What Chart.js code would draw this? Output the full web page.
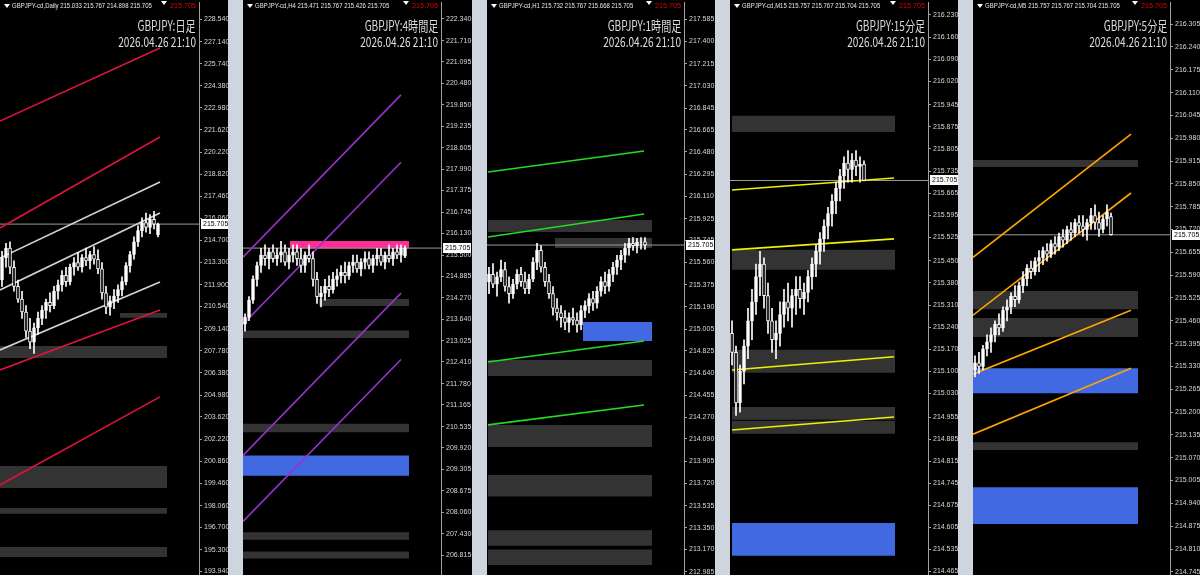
<!DOCTYPE html>
<html><head><meta charset="utf-8">
<script src="https://cdn.jsdelivr.net/npm/chart.js@4.4.1/dist/chart.umd.min.js"></script>
<style>
html,body{margin:0;padding:0}
body{width:1200px;height:575px;overflow:hidden;position:relative;background:#cfd5de;font-family:"Liberation Sans",Arial,sans-serif}
.panel{position:absolute;top:0;height:575px;background:#000;overflow:hidden}
.panel canvas{position:absolute;left:0;top:0}
.hdr{position:absolute;top:1px;left:12px;font-size:7.5px;color:#e8e8e8;white-space:nowrap;transform:scaleX(0.8);transform-origin:left center}
.tri{position:absolute;width:0;height:0;border-left:3px solid transparent;border-right:3px solid transparent;border-top:4px solid #fff}
.bid{position:absolute;top:1px;font-size:8px;color:#e00000;white-space:nowrap;transform:scaleX(0.9);transform-origin:right center}
.ttl{position:absolute;font-family:"Noto Sans CJK JP","Liberation Sans",sans-serif;font-size:14px;color:#dcdcdc;white-space:nowrap;transform:scaleX(0.72);transform-origin:right center;text-align:right}
</style></head>
<body>
<script>
// ---------------- DATA ----------------
const stampText = "2026.04.26 21:10";
const bidPrice = 215.705;
const panelNames = ["GBPJPY-cd,Daily","GBPJPY-cd,H4","GBPJPY-cd,H1","GBPJPY-cd,M15","GBPJPY-cd,M5"];
const panelTitles = ["GBPJPY:日足","GBPJPY:4時間足","GBPJPY:1時間足","GBPJPY:15分足","GBPJPY:5分足"];
const panelOHLC = ["215.033 215.767 214.898 215.705","215.471 215.767 215.426 215.705","215.732 215.767 215.668 215.705","215.757 215.767 215.704 215.705","215.757 215.767 215.704 215.705"];

const d1Ticks = [228.540,227.140,225.740,224.380,222.980,221.620,220.220,218.820,217.460,216.060,214.700,213.300,211.900,210.540,209.140,207.780,206.380,204.980,203.620,202.220,200.860,199.460,198.060,196.700,195.300,193.940];
const h4Ticks = [222.340,221.710,221.095,220.480,219.850,219.235,218.605,217.990,217.375,216.745,216.130,215.500,214.885,214.270,213.640,213.025,212.410,211.780,211.165,210.535,209.920,209.305,208.675,208.060,207.430,206.815];
const h1Ticks = [217.585,217.400,217.215,217.030,216.845,216.665,216.480,216.295,216.110,215.925,215.745,215.560,215.375,215.190,215.005,214.825,214.640,214.455,214.270,214.090,213.905,213.720,213.535,213.350,213.170,212.985];
const m15Ticks = [216.230,216.160,216.090,216.020,215.945,215.875,215.805,215.735,215.665,215.595,215.525,215.450,215.380,215.310,215.240,215.170,215.100,215.030,214.955,214.885,214.815,214.745,214.675,214.605,214.535,214.465];
const m5Ticks = [216.305,216.240,216.175,216.110,216.045,215.980,215.915,215.850,215.785,215.720,215.655,215.590,215.525,215.460,215.395,215.330,215.265,215.200,215.135,215.070,215.005,214.940,214.875,214.810,214.745];

const d1Range = [193.72, 229.62];
const h4Range = [206.24, 222.83];
const h1Range = [212.957, 217.729];
const m15Range = [214.454, 216.271];
const m5Range = [214.736, 216.368];

// candles: [open, high, low, close]
const d1Candles = [
[212.2,214.0,211.8,213.6],[213.6,214.5,213.0,214.2],[214.2,214.6,212.6,213.0],[213.0,213.4,211.5,211.8],[211.8,212.2,210.8,211.0],
[211.0,211.5,209.8,210.2],[210.2,210.6,208.6,209.0],[209.0,209.8,207.9,208.3],[208.3,209.5,207.6,209.2],[209.2,210.2,208.8,209.8],
[209.8,210.6,209.4,210.3],[210.3,211.0,209.8,210.8],[210.8,211.4,210.2,210.6],[210.6,211.8,210.4,211.5],[211.5,212.2,211.0,211.9],
[211.9,212.8,211.5,212.5],[212.5,213.0,211.8,212.1],[212.1,213.2,211.9,213.0],[213.0,213.6,212.5,213.3],[213.3,213.9,212.8,213.0],
[213.0,213.8,212.7,213.6],[213.6,214.2,213.1,213.4],[213.4,214.0,212.9,213.8],[213.8,214.3,213.2,213.5],[213.5,214.1,212.6,212.9],
[212.9,213.3,211.0,211.4],[211.4,211.8,210.1,210.5],[210.5,211.2,210.0,210.9],[210.9,211.6,210.4,211.2],[211.2,211.9,210.8,211.6],
[211.6,212.4,211.2,212.1],[212.1,213.3,211.9,213.1],[213.1,214.0,212.7,213.8],[213.8,214.9,213.5,214.6],[214.6,215.6,214.3,215.3],
[215.3,216.1,214.9,215.8],[215.8,216.4,215.2,215.5],[215.5,216.3,215.1,216.0],[216.0,216.5,215.4,215.7],[215.033,215.767,214.898,215.705]
];
const h4Candles = [
[213.5,213.8,213.3,213.7],[213.7,214.3,213.6,214.2],[214.2,214.9,214.1,214.8],[214.8,215.3,214.6,215.2],[215.2,215.7,215.0,215.5],
[215.5,215.8,215.2,215.4],[215.4,215.7,215.1,215.6],[215.6,215.8,215.3,215.4],[215.4,215.7,215.2,215.5],[215.5,215.9,215.3,215.6],
[215.6,215.8,215.2,215.3],[215.3,215.7,215.1,215.5],[215.5,215.8,215.3,215.6],[215.6,215.8,215.2,215.4],[215.4,215.7,215.0,215.2],
[215.2,215.6,215.0,215.5],[215.5,215.8,215.3,215.4],[215.4,215.6,214.6,214.8],[214.8,215.0,214.1,214.3],[214.3,214.6,214.0,214.4],
[214.4,214.8,214.2,214.6],[214.6,214.9,214.3,214.5],[214.5,215.0,214.4,214.8],[214.8,215.1,214.6,214.9],[214.9,215.2,214.7,215.0],
[215.0,215.3,214.7,214.9],[214.9,215.3,214.8,215.2],[215.2,215.5,215.0,215.3],[215.3,215.5,215.0,215.1],[215.1,215.4,214.9,215.3],
[215.3,215.6,215.1,215.4],[215.4,215.6,215.1,215.2],[215.2,215.5,215.0,215.4],[215.4,215.7,215.2,215.5],[215.5,215.7,215.2,215.3],
[215.3,215.6,215.1,215.5],[215.5,215.8,215.3,215.4],[215.4,215.7,215.2,215.6],[215.6,215.8,215.4,215.5],[215.5,215.8,215.3,215.7],
[215.471,215.767,215.426,215.705]
];
const h1Candles = [
[215.40,215.52,215.30,215.46],[215.46,215.55,215.35,215.38],[215.38,215.48,215.28,215.44],[215.44,215.58,215.40,215.50],[215.50,215.56,215.32,215.36],
[215.36,215.44,215.22,215.30],[215.30,215.42,215.26,215.38],[215.38,215.50,215.34,215.46],[215.46,215.52,215.36,215.40],[215.40,215.48,215.30,215.34],
[215.34,215.46,215.30,215.42],[215.42,215.60,215.40,215.56],[215.56,215.72,215.50,215.66],[215.66,215.70,215.48,215.52],[215.52,215.56,215.36,215.40],
[215.40,215.46,215.26,215.30],[215.30,215.36,215.12,215.18],[215.18,215.26,215.08,215.14],[215.14,215.20,215.02,215.10],[215.10,215.16,215.00,215.06],
[215.06,215.14,214.98,215.10],[215.10,215.18,215.04,215.08],[215.08,215.14,214.98,215.04],[215.04,215.20,215.00,215.16],[215.16,215.24,215.10,215.20],
[215.20,215.30,215.14,215.26],[215.26,215.32,215.16,215.22],[215.22,215.36,215.18,215.32],[215.32,215.44,215.28,215.40],[215.40,215.48,215.30,215.36],
[215.36,215.50,215.32,215.46],[215.46,215.56,215.40,215.52],[215.52,215.62,215.46,215.58],[215.58,215.66,215.50,215.62],[215.62,215.72,215.56,215.68],
[215.68,215.76,215.62,215.72],[215.72,215.767,215.66,215.70],[215.70,215.76,215.64,215.73],[215.73,215.767,215.67,215.732],[215.732,215.767,215.668,215.705]
];
const m15Candles = [
[215.22,215.26,215.12,215.16],[215.16,215.18,214.96,215.00],[215.00,215.12,214.97,215.10],[215.10,215.20,215.06,215.18],[215.18,215.30,215.14,215.26],
[215.26,215.36,215.20,215.32],[215.32,215.44,215.28,215.40],[215.40,215.48,215.34,215.44],[215.44,215.46,215.30,215.34],[215.34,215.38,215.22,215.26],
[215.26,215.30,215.16,215.20],[215.20,215.26,215.14,215.22],[215.22,215.32,215.18,215.28],[215.28,215.36,215.24,215.32],[215.32,215.38,215.26,215.30],
[215.30,215.36,215.24,215.34],[215.34,215.40,215.28,215.36],[215.36,215.40,215.30,215.33],[215.33,215.38,215.28,215.35],[215.35,215.42,215.32,215.40],
[215.40,215.46,215.36,215.44],[215.44,215.50,215.40,215.48],[215.48,215.54,215.44,215.52],[215.52,215.58,215.48,215.56],[215.56,215.62,215.52,215.60],
[215.60,215.66,215.56,215.64],[215.64,215.70,215.60,215.68],[215.68,215.74,215.64,215.72],[215.72,215.78,215.68,215.76],[215.76,215.80,215.70,215.74],
[215.74,215.79,215.70,215.77],[215.77,215.80,215.72,215.75],[215.75,215.78,215.70,215.757],[215.757,215.767,215.704,215.705]
];
const m5Candles = [
[215.32,215.36,215.30,215.34],[215.34,215.37,215.31,215.33],[215.33,215.39,215.32,215.38],[215.38,215.42,215.36,215.40],[215.40,215.44,215.37,215.42],
[215.42,215.46,215.40,215.45],[215.45,215.48,215.42,215.44],[215.44,215.50,215.43,215.49],[215.49,215.52,215.46,215.50],[215.50,215.54,215.48,215.53],
[215.53,215.56,215.50,215.52],[215.52,215.57,215.51,215.56],[215.56,215.60,215.54,215.58],[215.58,215.62,215.56,215.61],[215.61,215.63,215.58,215.60],
[215.60,215.64,215.59,215.63],[215.63,215.66,215.60,215.64],[215.64,215.67,215.62,215.66],[215.66,215.68,215.63,215.65],[215.65,215.69,215.64,215.68],
[215.68,215.70,215.65,215.67],[215.67,215.71,215.66,215.70],[215.70,215.72,215.67,215.69],[215.69,215.73,215.68,215.72],[215.72,215.74,215.69,215.71],
[215.71,215.75,215.70,215.74],[215.74,215.76,215.71,215.73],[215.73,215.76,215.70,215.72],[215.72,215.75,215.69,215.74],[215.74,215.78,215.72,215.76],
[215.76,215.79,215.72,215.74],[215.74,215.77,215.70,215.72],[215.72,215.76,215.71,215.75],[215.75,215.79,215.73,215.77],[215.757,215.767,215.704,215.705]
];

// channel lines: [x0, price0, x1, price1]  (x in bar units)
const d1Lines = [[0,222.16,40,226.74],[0,215.46,40,221.16],[0,213.58,40,218.34],[0,211.58,40,216.40],[0,207.82,40,212.08],[0,206.57,40,210.33],[0,199.36,40,204.88]];
const h4Lines = [[0,215.44,39.5,220.14],[0,213.50,39.5,218.19],[0,209.70,39.5,214.40],[0,207.79,39.5,212.48]];
const h1Lines = [[0.25,216.313,39.25,216.488],[0.25,215.772,39.25,215.964],[0.25,214.731,39.25,214.906],[0.25,214.207,39.25,214.373]];
const m15Lines = [[0.5,215.675,41,215.713],[0.5,215.485,41,215.52],[0.5,215.104,41,215.146],[0.5,214.914,41,214.955]];
const m5Lines = [[0,215.641,39.5,215.992],[0,215.476,39.5,215.824],[0,215.308,39.5,215.490],[0,215.137,39.5,215.325]];

// zones: [x0, x1, low, high, kind]
const d1Zones = [[30,41.75,209.83,210.13,'gray'],[0,41.75,207.32,208.07,'gray'],[0,41.75,199.17,200.55,'gray'],[0,41.75,197.55,197.92,'gray'],[0,41.75,194.85,195.48,'gray']];
const h4Zones = [[11.75,41.5,215.69,215.91,'pink'],[19,41.5,214.03,214.23,'gray'],[0,41.5,213.10,213.32,'gray'],[0,41.5,210.37,210.62,'gray'],[0,41.5,209.11,209.70,'blue'],[0,41.5,207.26,207.48,'gray'],[0,41.5,206.72,206.92,'gray']];
const h1Zones = [[0.25,41.25,215.814,215.914,'gray'],[17,41.25,215.68,215.764,'gray'],[24,41.25,214.906,215.064,'blue'],[0.25,41.25,214.614,214.748,'gray'],[0.25,41.25,214.024,214.207,'gray'],[0.25,41.25,213.61,213.79,'gray'],[0.25,41.25,213.20,213.33,'gray'],[0.25,41.25,213.04,213.17,'gray']];
const m15Zones = [[0.5,41.25,215.859,215.910,'gray'],[0.5,41.25,215.422,215.485,'gray'],[0.5,41.25,215.095,215.168,'gray'],[0.5,41.25,214.946,214.987,'gray'],[0.5,41.25,214.902,214.943,'gray'],[0.5,41.25,214.515,214.619,'blue']];
const m5Zones = [[0,41.25,215.898,215.918,'gray'],[0,41.25,215.493,215.545,'gray'],[0,41.25,215.414,215.468,'gray'],[0,41.25,215.254,215.325,'blue'],[0,41.25,215.092,215.114,'gray'],[0,41.25,214.881,214.986,'blue']];

// ---------------- LAYOUT / STYLE ----------------
const zoneColors = {gray:'#333333', blue:'#4169e1', pink:'#ff2d95'};
const panels = [
  {left:0,   width:228, plotW:199, barPx:4, candles:d1Candles,  lines:d1Lines,  zones:d1Zones,  ticks:d1Ticks,  range:d1Range,  lineColors:['#dc143c','#dc143c','#d3d3d3','#d3d3d3','#d3d3d3','#dc143c','#dc143c']},
  {left:243, width:229, plotW:198, barPx:4, candles:h4Candles,  lines:h4Lines,  zones:h4Zones,  ticks:h4Ticks,  range:h4Range,  lineColors:['#9932cc','#9932cc','#9932cc','#9932cc']},
  {left:487, width:228, plotW:197, barPx:4, candles:h1Candles,  lines:h1Lines,  zones:h1Zones,  ticks:h1Ticks,  range:h1Range,  lineColors:['#22dd22','#22dd22','#22dd22','#22dd22']},
  {left:730, width:228, plotW:198, barPx:4, candles:m15Candles, lines:m15Lines, zones:m15Zones, ticks:m15Ticks, range:m15Range, lineColors:['#f0f000','#f0f000','#f0f000','#f0f000']},
  {left:973, width:227, plotW:197, barPx:4, candles:m5Candles,  lines:m5Lines,  zones:m5Zones,  ticks:m5Ticks,  range:m5Range,  lineColors:['#ffa500','#ffa500','#ffa500','#ffa500']}
];

const priceTag = {
  id:'priceTag',
  afterDraw(chart){
    const y = chart.scales.y.getPixelForValue(bidPrice);
    const ctx = chart.ctx, x = chart.chartArea.right;
    ctx.save();
    ctx.fillStyle='#ffffff';
    ctx.fillRect(x+2, Math.round(y)-5, 28, 10);
    ctx.fillStyle='#000000';
    ctx.font='7px "Liberation Sans", Arial';
    ctx.textBaseline='middle';
    ctx.fillText(bidPrice.toFixed(3), x+4, Math.round(y));
    ctx.restore();
  }
};

panels.forEach((p, k) => {
  const div = document.createElement('div');
  div.className='panel';
  div.style.left=p.left+'px'; div.style.width=p.width+'px';
  document.body.appendChild(div);
  const cv = document.createElement('canvas');
  cv.width=p.width; cv.height=575;
  cv.style.width=p.width+'px'; cv.style.height='575px';
  div.appendChild(cv);

  const xMax = p.plotW / p.barPx;
  const ds = [];
  p.zones.forEach(z => ds.push({type:'line', data:[{x:z[0],y:z[3]},{x:z[1],y:z[3]}], fill:{value:z[2]},
    backgroundColor:zoneColors[z[4]], borderWidth:0, borderColor:'rgba(0,0,0,0)', pointRadius:0, order:20}));
  ds.push({type:'line', data:[{x:0,y:bidPrice},{x:xMax,y:bidPrice}], borderColor:'#9a9a9a', borderWidth:1, pointRadius:0, fill:false, order:15});
  p.lines.forEach((l,i) => ds.push({type:'line', data:[{x:l[0],y:l[1]},{x:l[2],y:l[3]}], borderColor:p.lineColors[i], borderWidth:1.6, pointRadius:0, fill:false, order:10}));
  ds.push({type:'bar', data:p.candles.map((c,i)=>({x:i+0.5, y:[c[2],c[1]]})), backgroundColor:'#ffffff', barThickness:1, grouped:false, order:3});
  ds.push({type:'bar', data:p.candles.map((c,i)=>({x:i+0.5, y:[c[0],c[3]]})),
    backgroundColor:p.candles.map(c => c[3]>=c[0] ? '#ffffff' : '#000000'),
    borderColor:'#ffffff', borderWidth:1, borderSkipped:false, barThickness:3, grouped:false, order:1});

  new Chart(cv, {
    type:'bar',
    data:{datasets:ds},
    plugins:[priceTag],
    options:{
      responsive:false, animation:false, devicePixelRatio:1,
      layout:{padding:{top:2,left:0,right:0,bottom:0}},
      plugins:{legend:{display:false}, tooltip:{enabled:false}},
      scales:{
        x:{type:'linear', display:false, min:0, max:xMax, offset:false},
        y:{type:'linear', position:'right', min:p.range[0], max:p.range[1],
          afterBuildTicks:(s)=>{ s.ticks = p.ticks.map(v=>({value:v})); },
          afterFit:(s)=>{ s.width = p.width - p.plotW; s.paddingTop=0; s.paddingBottom=0; },
          ticks:{color:'#d8d8d8', font:{size:7, family:'"Liberation Sans", Arial'}, padding:2, callback:(v)=>Number(v).toFixed(3), autoSkip:false},
          grid:{drawOnChartArea:false, drawTicks:true, tickLength:3, color:'#a0a0a0'},
          border:{display:true, color:'#a0a0a0', width:1}
        }
      }
    }
  });

  const tri = document.createElement('div'); tri.className='tri'; tri.style.left='4px'; tri.style.top='4px'; div.appendChild(tri);
  const h = document.createElement('div'); h.className='hdr'; h.textContent = panelNames[k] + ' ' + panelOHLC[k]; div.appendChild(h);
  const tri2 = document.createElement('div'); tri2.className='tri'; tri2.style.left=(p.plotW-38)+'px'; tri2.style.top='1px'; div.appendChild(tri2);
  const b = document.createElement('div'); b.className='bid'; b.style.right=(p.width-p.plotW+3)+'px'; b.textContent=bidPrice.toFixed(3); div.appendChild(b);
  const t1 = document.createElement('div'); t1.className='ttl'; t1.style.right=(p.width-p.plotW+3)+'px'; t1.style.top='15px'; t1.textContent=panelTitles[k]; div.appendChild(t1);
  const t2 = document.createElement('div'); t2.className='ttl'; t2.style.right=(p.width-p.plotW+3)+'px'; t2.style.top='31px'; t2.textContent=stampText; div.appendChild(t2);
});
</script>
</body></html>
